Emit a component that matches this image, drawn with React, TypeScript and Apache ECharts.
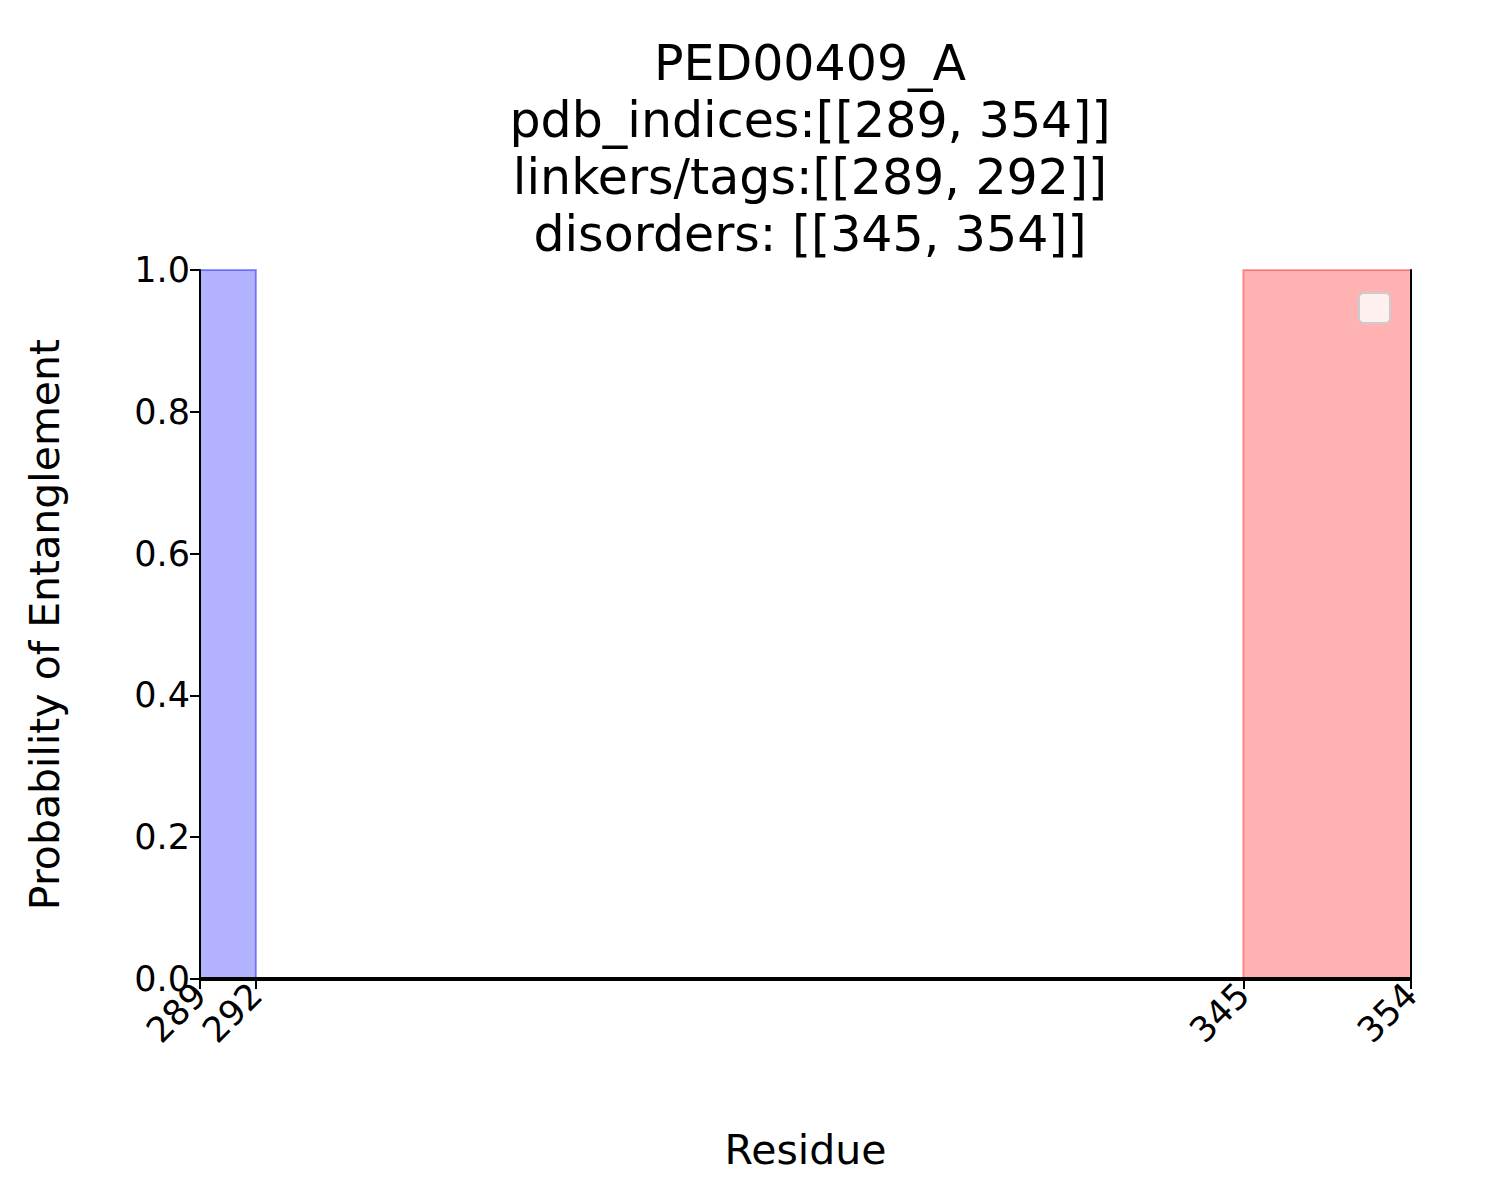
import React, { useEffect, useRef } from 'react';
import * as echarts from 'echarts';

const TITLE_LINES = [
  'PED00409_A',
  'pdb_indices:[[289, 354]]',
  'linkers/tags:[[289, 292]]',
  'disorders: [[345, 354]]',
];
const X_RANGE = [289, 354];
const X_TICKS = [289, 292, 345, 354];
const LINKER_BANDS = [[289, 292]];
const DISORDER_BANDS = [[345, 354]];
const PROB_LINE = [
  [289, 0],
  [354, 0],
];

const FONT = 'DejaVu Sans';
const frameAxis = {
  show: true,
  z: 10,
  axisLine: { show: true, lineStyle: { color: '#000', width: 2 } },
  axisTick: { show: false },
  axisLabel: { show: false },
  splitLine: { show: false },
};

const App: React.FC = () => {
  const divEL = useRef<HTMLDivElement>(null);

  useEffect(() => {
    const instance = echarts.init(divEL.current as any, null, { renderer: 'svg' });
    const option: any = {
      animation: false,
      backgroundColor: '#fff',
      textStyle: { fontFamily: FONT },
      title: {
        text: TITLE_LINES.join('\n'),
        left: 805,
        textAlign: 'center',
        top: 30,
        textStyle: { fontFamily: FONT, fontSize: 49, fontWeight: 'normal', color: '#000', lineHeight: 57 },
      },
      grid: { left: 200, right: 89, top: 270, bottom: 221 },
      xAxis: [
        {
          type: 'value',
          min: X_RANGE[0],
          max: X_RANGE[1],
          z: 10,
          name: 'Residue',
          nameLocation: 'middle',
          nameGap: 150,
          nameTextStyle: { fontFamily: FONT, fontSize: 41, color: '#000' },
          splitLine: { show: false },
          axisLine: { show: true, lineStyle: { color: '#000', width: 2 } },
          axisTick: { show: true, length: 10, lineStyle: { color: '#000', width: 2 }, customValues: X_TICKS },
          axisLabel: {
            customValues: X_TICKS,
            rotate: 45,
            fontFamily: FONT,
            fontSize: 35,
            color: '#000',
            margin: 10,
          },
        },
        { ...frameAxis, type: 'value', position: 'top', min: X_RANGE[0], max: X_RANGE[1] },
      ],
      yAxis: [
        {
          type: 'value',
          min: 0,
          max: 1,
          interval: 0.2,
          z: 10,
          name: 'Probability of Entanglement',
          nameLocation: 'middle',
          nameGap: 135,
          nameTextStyle: { fontFamily: FONT, fontSize: 41, color: '#000' },
          splitLine: { show: false },
          axisLine: { show: true, lineStyle: { color: '#000', width: 2 } },
          axisTick: { show: true, length: 10, lineStyle: { color: '#000', width: 2 } },
          axisLabel: {
            fontFamily: FONT,
            fontSize: 35,
            color: '#000',
            margin: 10,
            formatter: (v: number) => v.toFixed(1),
          },
        },
        { ...frameAxis, type: 'value', position: 'right', min: 0, max: 1 },
      ],
      graphic: [
        {
          type: 'rect',
          shape: { x: 1359, y: 293, width: 31, height: 30, r: 5 },
          style: { fill: 'rgba(255,255,255,0.8)', stroke: '#ccc', lineWidth: 2 },
          z: 100,
        },
      ],
      series: [
        {
          type: 'line',
          data: PROB_LINE,
          symbol: 'none',
          lineStyle: { color: '#000', width: 4 },
          z: 5,
          markArea: {
            silent: true,
            data: [
              ...LINKER_BANDS.map((b) => [
                { xAxis: b[0], itemStyle: { color: 'rgba(0,0,255,0.3)', borderColor: 'rgba(0,0,255,0.4)', borderWidth: 2 } },
                { xAxis: b[1] },
              ]),
              ...DISORDER_BANDS.map((b) => [
                { xAxis: b[0], itemStyle: { color: 'rgba(255,0,0,0.3)', borderColor: 'rgba(255,0,0,0.35)', borderWidth: 2 } },
                { xAxis: b[1] },
              ]),
            ],
          },
        },
      ],
    };
    instance.setOption(option);
    return () => {
      instance.dispose();
    };
  }, []);

  return <div ref={divEL} style={{ position: 'absolute', left: 0, top: 0, width: 1500, height: 1200 }}></div>;
};

export default App;
